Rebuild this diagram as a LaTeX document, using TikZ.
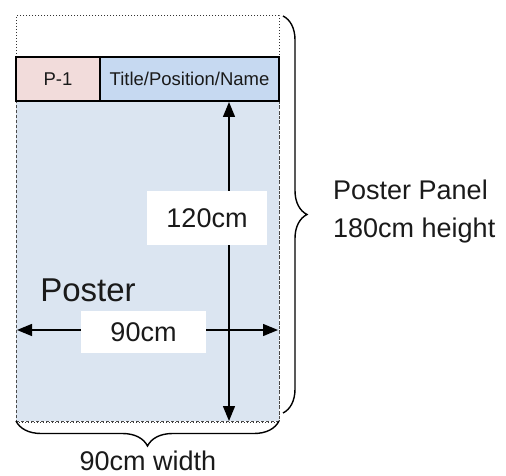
\documentclass[tikz,border=0pt]{standalone}
\usepackage{fontspec}
\setmainfont{Liberation Sans}
\usetikzlibrary{decorations.pathreplacing,arrows.meta}
\definecolor{pinkfill}{HTML}{F2DCDB}
\definecolor{titlefill}{HTML}{C6D9F1}
\definecolor{bodyfill}{HTML}{DBE5F1}
\definecolor{txt}{HTML}{1A1A1A}
\begin{document}
\begin{tikzpicture}[x=1pt,y=-1pt,
  panelbox/.style={draw=black!80, dotted, line width=1pt, minimum width=263pt, minimum height=406pt, inner sep=0pt},
  bodybox/.style={draw=black!70, densely dashed, line width=0.8pt, fill=bodyfill, minimum width=263pt, minimum height=320pt, inner sep=0pt},
  headbox/.style={draw=black, line width=2pt, minimum height=44pt, inner sep=0pt, text=txt, font=\fontsize{18.5}{22}\selectfont},
  labelbox/.style={fill=white, inner sep=0pt, text=txt, font=\fontsize{27}{32}\selectfont},
  bigtext/.style={text=txt, font=\fontsize{27}{32}\selectfont, inner sep=0pt},
  dimarrow/.style={line width=1.3pt, {Triangle[length=15pt,width=12pt]}-{Triangle[length=15pt,width=12pt]}},
  bracestyle/.style={decorate, line width=1.4pt, decoration={brace, amplitude=24pt}}
]
\useasboundingbox (0,0) rectangle (506,476);
\node[panelbox] (panel) at (147.5,219) {};
\node[bodybox] (body) at (147.5,261) {};
\node[headbox, fill=pinkfill, minimum width=84pt] (p1) at (58,79) {P-1};
\node[headbox, fill=titlefill, minimum width=179pt] (title) at (189.5,79) {Title/Position/Name};
\coordinate (vt) at (229,102);
\coordinate (vb) at (229,421);
\coordinate (hl) at (17,330);
\coordinate (hr) at (278,330);
\draw[dimarrow] (vt) -- (vb);
\draw[dimarrow] (hl) -- (hr);
\node[labelbox, minimum width=120pt, minimum height=54pt] (l120) at (207,218) {120cm};
\node[labelbox, minimum width=125pt, minimum height=42pt] (l90) at (143.5,332) {90cm};
\node[bigtext, font=\fontsize{33}{38}\selectfont] (poster) at (88,290) {Poster};
\coordinate (rbt) at (283,16);
\coordinate (rbb) at (283,413);
\draw[bracestyle] (rbt) -- (rbb);
\coordinate (bbl) at (16,421);
\coordinate (bbr) at (279,421);
\draw[bracestyle, decoration={amplitude=25pt}] (bbr) -- (bbl);
\node[bigtext, anchor=west] (pp) at (333,190) {Poster Panel};
\node[bigtext, anchor=west] (ph) at (333,231) {180cm height};
\node[bigtext] (w90) at (148,461) {90cm width};
\end{tikzpicture}
\end{document}
